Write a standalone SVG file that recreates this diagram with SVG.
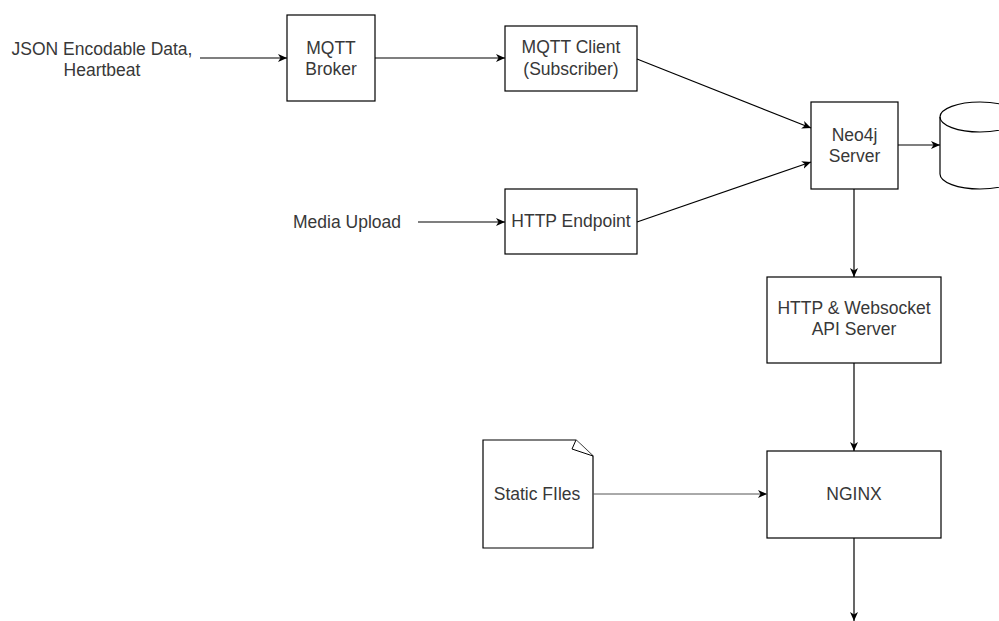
<svg xmlns="http://www.w3.org/2000/svg" width="999" height="621" viewBox="0 0 999 621">
  <style>
    .box { fill: #ffffff; stroke: #000000; stroke-width: 1.2; }
    .lbl { font-family: "Liberation Sans", Arial, sans-serif; font-size: 17.5px; fill: #383838; text-anchor: middle; }
    .edge { fill: none; stroke: #000000; stroke-width: 1.2; }
    .edge-thin { fill: none; stroke: #555555; stroke-width: 1; }
  </style>
  <defs>
    <marker id="arrow" markerUnits="userSpaceOnUse" markerWidth="10" markerHeight="10" viewBox="0 0 10 10" refX="9" refY="5" orient="auto">
      <path d="M0,1 L9,5 L0,9 L2.5,5 Z" fill="#000000"/>
    </marker>
  </defs>
  <rect width="999" height="621" fill="#ffffff"/>

  <!-- free-standing input labels -->
  <g id="json-input">
    <text class="lbl" x="102" y="55">JSON Encodable Data,</text>
    <text class="lbl" x="102" y="76">Heartbeat</text>
  </g>
  <g id="media-input">
    <text class="lbl" x="347" y="228">Media Upload</text>
  </g>

  <g id="mqtt-broker">
    <rect class="box" x="287" y="15" width="88" height="86"/>
    <text class="lbl" x="331" y="54">MQTT</text>
    <text class="lbl" x="331" y="75">Broker</text>
  </g>

  <g id="mqtt-client">
    <rect class="box" x="505" y="26" width="132" height="65"/>
    <text class="lbl" x="571" y="53">MQTT Client</text>
    <text class="lbl" x="571" y="75">(Subscriber)</text>
  </g>

  <g id="http-endpoint">
    <rect class="box" x="505" y="189" width="132" height="65"/>
    <text class="lbl" x="571" y="227">HTTP Endpoint</text>
  </g>

  <g id="neo4j">
    <rect class="box" x="811" y="102" width="87" height="87"/>
    <text class="lbl" x="854.5" y="141">Neo4j</text>
    <text class="lbl" x="854.5" y="162">Server</text>
  </g>

  <g id="database">
    <path class="box" d="M940,117 A40,15 0 0 1 1020,117 L1020,174 A40,15 0 0 1 940,174 Z"/>
    <path class="edge" d="M940,117 A40,15 0 0 0 1020,117"/>
  </g>

  <g id="api-server">
    <rect class="box" x="767" y="277" width="174" height="86"/>
    <text class="lbl" x="854" y="314">HTTP &amp; Websocket</text>
    <text class="lbl" x="854" y="335">API Server</text>
  </g>

  <g id="static-files">
    <path class="box" d="M483,440 L576,440 L593,456 L593,548 L483,548 Z"/>
    <path d="M576,440 L572,449 L593,456" fill="#ffffff" stroke="#000000" stroke-width="1"/>
    <text class="lbl" x="537" y="500">Static FIles</text>
  </g>

  <g id="nginx">
    <rect class="box" x="767" y="451" width="174" height="87"/>
    <text class="lbl" x="854" y="500">NGINX</text>
  </g>

  <g id="connectors">
    <line class="edge" x1="200" y1="58" x2="287" y2="58" marker-end="url(#arrow)"/>
    <line class="edge" x1="375" y1="58" x2="505" y2="58" marker-end="url(#arrow)"/>
    <line class="edge" x1="418" y1="222" x2="505" y2="222" marker-end="url(#arrow)"/>
    <line class="edge" x1="637" y1="59" x2="811" y2="128" marker-end="url(#arrow)"/>
    <line class="edge" x1="637" y1="222" x2="811" y2="162" marker-end="url(#arrow)"/>
    <line class="edge" x1="898" y1="145" x2="940" y2="145" marker-end="url(#arrow)"/>
    <line class="edge" x1="854" y1="189" x2="854" y2="277" marker-end="url(#arrow)"/>
    <line class="edge" x1="854" y1="363" x2="854" y2="451" marker-end="url(#arrow)"/>
    <line class="edge-thin" x1="593" y1="494" x2="767" y2="494" marker-end="url(#arrow)"/>
    <line class="edge" x1="854" y1="538" x2="854" y2="621" marker-end="url(#arrow)"/>
  </g>
</svg>
